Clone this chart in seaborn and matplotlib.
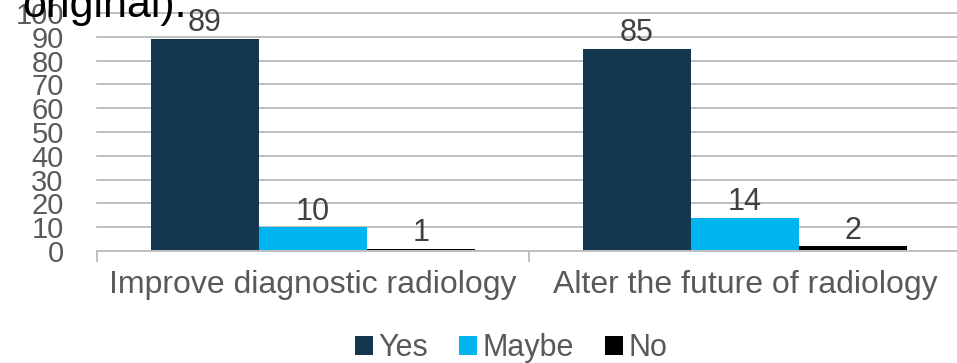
import matplotlib
matplotlib.use("Agg")
import matplotlib.pyplot as plt
import matplotlib.patches as mpatches
import seaborn as sns
import pandas as pd

# Survey results (percent of respondents)
categories = ["Improve diagnostic radiology", "Alter the future of radiology"]
responses = ["Yes", "Maybe", "No"]
yes_vals = [89, 85]
maybe_vals = [10, 14]
no_vals = [1, 2]
y_ticks = [0, 10, 20, 30, 40, 50, 60, 70, 80, 90, 100]
colors = ["#12374E", "#00B4F0", "#000000"]

sns.set_theme(style="white")
plt.rcParams["font.family"] = ["Liberation Sans", "DejaVu Sans"]

df = pd.DataFrame({
    "question": categories * 3,
    "response": [r for r in responses for _ in categories],
    "percent": yes_vals + maybe_vals + no_vals,
})

W, H = 957, 363
fig = plt.figure(figsize=(W / 100, H / 100), dpi=100)
ax = fig.add_axes([97 / W, 112 / H, 864 / W, 238 / H])

sns.barplot(data=df, x="question", y="percent", hue="response",
            order=categories, hue_order=responses, palette=colors,
            saturation=1, width=0.75, errorbar=None, linewidth=0,
            legend=False, ax=ax)

grid_c = "#BFBFBF"
text_c = "#595959"
px = 72 / 100  # one pixel in points

ax.set_xlim(-0.5, 1.5)
ax.set_ylim(0, 100)
ax.set_yticks(y_ticks)
ax.set_yticklabels([str(t) for t in y_ticks])
ax.yaxis.grid(True, color=grid_c, linewidth=2 * px)
ax.set_axisbelow(True)
for gl in ax.get_ygridlines():
    gl.set_clip_on(False)

for side in ["top", "right", "left"]:
    ax.spines[side].set_visible(False)
ax.spines["bottom"].set_color(grid_c)
ax.spines["bottom"].set_linewidth(2 * px)

ax.set_xlabel("")
ax.set_ylabel("")
ax.set_xticks([-0.5, 0.5, 1.5], minor=True)
ax.tick_params(axis="x", which="minor", length=11 * px, width=2 * px,
               color=grid_c, direction="out", bottom=True)
ax.tick_params(axis="x", which="major", length=0, pad=14,
               labelsize=23, labelcolor=text_c)
ax.tick_params(axis="y", length=0, pad=24, labelsize=21, labelcolor=text_c)

for cont in ax.containers:
    ax.bar_label(cont, fmt="{:.0f}", padding=0.5, fontsize=22, color="#404040")

handles = [mpatches.Patch(facecolor=c, edgecolor="none", label=r)
           for c, r in zip(colors, responses)]
fig.legend(handles=handles, loc="center", bbox_to_anchor=(511 / W, 15 / H),
           ncol=3, frameon=False, fontsize=22, labelcolor=text_c,
           handlelength=0.6, handleheight=0.6, handletextpad=0.18,
           columnspacing=1.0, borderpad=0, borderaxespad=0)

fig.text(22 / W, (H - 17) / H, "original).", fontsize=31, color="black",
         ha="left", va="baseline")

fig.savefig("out.png", dpi=100)
